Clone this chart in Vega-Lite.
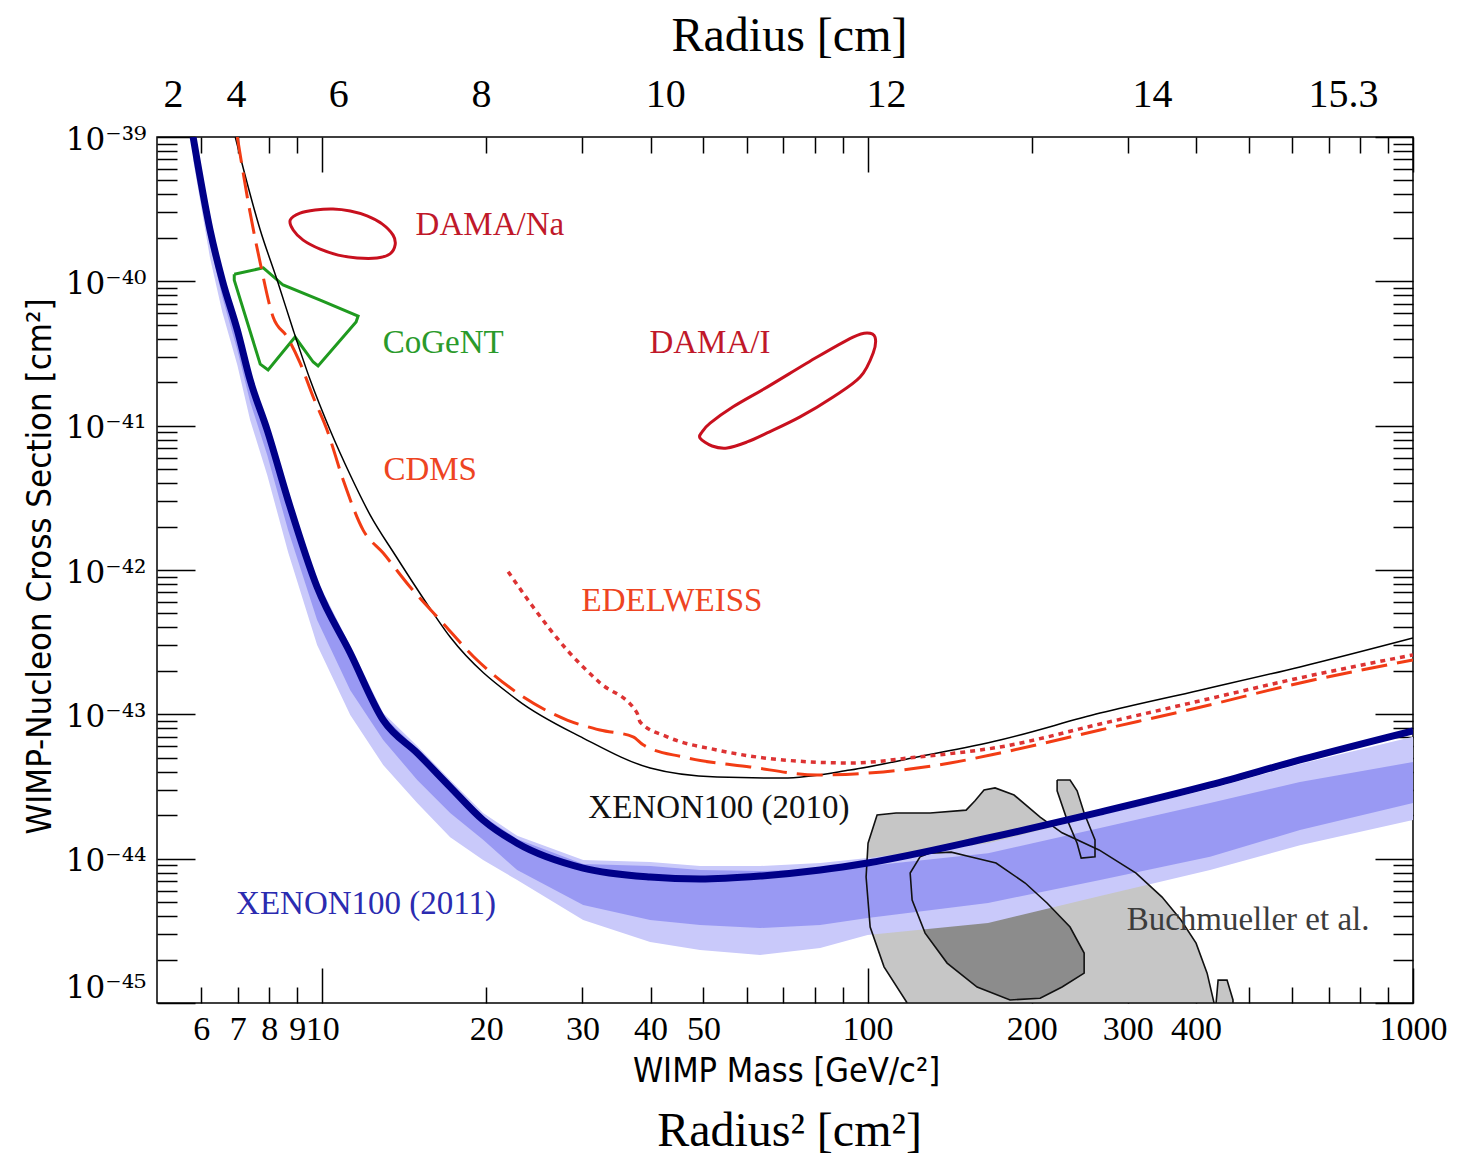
{
  "$schema": "https://vega.github.io/schema/vega-lite/v6.json",
  "width": 1256,
  "height": 866,
  "autosize": {"type": "none"},
  "padding": {"left": 157, "top": 137, "right": 55, "bottom": 152},
  "background": "white",
  "config": {
    "view": {"stroke": "black", "strokeWidth": 1.5},
    "axis": {"grid": false, "domain": false, "labelOverlap": false, "labelFlush": false, "labelBound": false, "tickColor": "black", "tickWidth": 1.5, "labelColor": "black", "titleColor": "black", "titleFontWeight": "normal", "zindex": 1}
  },
  "datasets": {
    "x11": [
      {"m":5.80,"s":1.0e-39,"hi2":1.12e-39,"hi1":1.07e-39,"lo1":8.13e-40,"lo2":6.93e-40},
      {"m":6.23,"s":2.27e-40,"hi2":2.58e-40,"hi1":2.42e-40,"lo1":1.79e-40,"lo2":1.45e-40},
      {"m":6.56,"s":1.02e-40,"hi2":1.16e-40,"hi1":1.09e-40,"lo1":7.79e-41,"lo2":6.13e-41},
      {"m":6.99,"s":4.60e-41,"hi2":5.23e-41,"hi1":4.90e-41,"lo1":3.34e-41,"lo2":2.63e-41},
      {"m":7.38,"s":2.07e-41,"hi2":2.35e-41,"hi1":2.21e-41,"lo1":1.46e-41,"lo2":1.09e-41},
      {"m":7.93,"s":9.33e-42,"hi2":1.04e-41,"hi1":9.95e-42,"lo1":6.26e-42,"lo2":4.55e-42},
      {"m":8.66,"s":3.05e-42,"hi2":3.42e-42,"hi1":3.26e-42,"lo1":1.89e-42,"lo2":1.33e-42},
      {"m":9.79,"s":7.62e-43,"hi2":8.52e-43,"hi1":8.12e-43,"lo1":4.50e-43,"lo2":3.02e-43},
      {"m":11.26,"s":2.66e-43,"hi2":2.97e-43,"hi1":2.84e-43,"lo1":1.47e-43,"lo2":9.89e-44},
      {"m":12.94,"s":9.13e-44,"hi2":1.02e-43,"hi1":9.74e-44,"lo1":6.64e-44,"lo2":4.46e-44},
      {"m":14.94,"s":5.40e-44,"hi2":6.03e-44,"hi1":5.75e-44,"lo1":3.51e-44,"lo2":2.43e-44},
      {"m":17.17,"s":3.14e-44,"hi2":3.51e-44,"hi1":3.34e-44,"lo1":2.07e-44,"lo2":1.41e-44},
      {"m":19.73,"s":1.85e-44,"hi2":2.07e-44,"hi1":1.97e-44,"lo1":1.35e-44,"lo2":9.79e-45},
      {"m":22.78,"s":1.28e-44,"hi2":1.44e-44,"hi1":1.37e-44,"lo1":8.34e-45,"lo2":7.11e-45},
      {"m":30.10,"s":8.61e-45,"hi2":9.79e-45,"hi1":9.18e-45,"lo1":4.77e-45,"lo2":3.76e-45},
      {"m":39.94,"s":7.46e-45,"hi2":9.48e-45,"hi1":8.89e-45,"lo1":3.76e-45,"lo2":2.65e-45},
      {"m":49.30,"s":7.23e-45,"hi2":8.89e-45,"hi1":8.34e-45,"lo1":3.47e-45,"lo2":2.33e-45},
      {"m":63.53,"s":7.58e-45,"hi2":8.89e-45,"hi1":8.21e-45,"lo1":3.31e-45,"lo2":2.15e-45},
      {"m":81.87,"s":8.34e-45,"hi2":9.33e-45,"hi1":8.48e-45,"lo1":3.47e-45,"lo2":2.40e-45},
      {"m":100,"s":9.33e-45,"hi2":1.01e-44,"hi1":8.89e-45,"lo1":3.88e-45,"lo2":2.96e-45},
      {"m":166.3,"s":1.39e-44,"hi2":1.28e-44,"hi1":1.09e-44,"lo1":4.93e-45,"lo2":3.58e-45},
      {"m":266.9,"s":2.10e-44,"hi2":2.01e-44,"hi1":1.63e-44,"lo1":7.11e-45,"lo2":5.51e-45},
      {"m":424.6,"s":3.24e-44,"hi2":3.04e-44,"hi1":2.43e-44,"lo1":1.03e-44,"lo2":8.34e-45},
      {"m":620.6,"s":4.83e-44,"hi2":4.53e-44,"hi1":3.40e-44,"lo1":1.58e-44,"lo2":1.24e-44},
      {"m":1000,"s":7.69e-44,"hi2":6.99e-44,"hi1":4.67e-44,"lo1":2.43e-44,"lo2":1.85e-44}
    ],
    "x10": [
      {"m":6.93,"s":1e-39},{"m":7.70,"s":2.27e-40},{"m":8.27,"s":1.02e-40},{"m":8.85,"s":4.60e-41},
      {"m":9.51,"s":2.07e-41},{"m":10.34,"s":9.33e-42},{"m":11.26,"s":4.55e-42},{"m":12.25,"s":2.40e-42},
      {"m":13.61,"s":1.27e-42},{"m":15.31,"s":6.40e-43},{"m":17.17,"s":3.43e-43},{"m":22.78,"s":1.26e-43},
      {"m":30.10,"s":6.85e-44},{"m":39.94,"s":4.25e-44},{"m":52.98,"s":3.68e-44},{"m":69.99,"s":3.62e-44},
      {"m":92.89,"s":4.11e-44},{"m":123.3,"s":5.06e-44},{"m":175.0,"s":6.64e-44},{"m":266.9,"s":1.02e-43},
      {"m":406.9,"s":1.47e-43},{"m":620.6,"s":2.13e-43},{"m":1000,"s":3.38e-43}
    ],
    "cdms": [
      {"m":6.99,"s":1e-39},{"m":7.38,"s":2.97e-40},{"m":7.70,"s":1.34e-40},{"m":8.13,"s":5.66e-41},
      {"m":8.63,"s":4.11e-41},{"m":9.11,"s":2.72e-41},{"m":9.63,"s":1.58e-41},{"m":10.21,"s":9.33e-42},
      {"m":10.93,"s":4.20e-42},{"m":11.89,"s":1.89e-42},{"m":12.94,"s":1.31e-42},{"m":14.50,"s":7.62e-43},
      {"m":16.45,"s":4.50e-43},{"m":19.23,"s":2.38e-43},{"m":22.78,"s":1.41e-43},{"m":28.13,"s":9.13e-44},
      {"m":32.33,"s":7.79e-44},{"m":37.16,"s":6.99e-44},{"m":38.77,"s":6.15e-44},{"m":45.90,"s":5.06e-44},
      {"m":60.89,"s":4.32e-44},{"m":80.83,"s":3.80e-44},{"m":106.8,"s":3.99e-44},{"m":141.7,"s":4.60e-44},
      {"m":175.0,"s":5.40e-44},{"m":266.9,"s":7.79e-44},{"m":406.9,"s":1.12e-43},{"m":620.6,"s":1.65e-43},
      {"m":1000,"s":2.38e-43}
    ],
    "edel": [
      {"m":21.93,"s":9.74e-43},{"m":24.37,"s":5.54e-43},{"m":28.13,"s":2.79e-43},{"m":32.33,"s":1.65e-43},
      {"m":37.80,"s":1.02e-43},{"m":38.28,"s":8.85e-44},{"m":42.90,"s":6.99e-44},{"m":52.98,"s":5.66e-44},
      {"m":69.99,"s":4.83e-44},{"m":92.89,"s":4.60e-44},{"m":123.3,"s":5.06e-44},{"m":175.0,"s":5.94e-44},
      {"m":266.9,"s":8.57e-44},{"m":406.9,"s":1.24e-43},{"m":620.6,"s":1.79e-43},{"m":1000,"s":2.58e-43}
    ],
    "contours": [
      {"id":"dna","i":0,"m":8.74,"s":2.66e-40},{"id":"dna","i":1,"m":9.11,"s":2.97e-40},{"id":"dna","i":2,"m":9.71,"s":3.12e-40},
      {"id":"dna","i":3,"m":10.47,"s":3.17e-40},{"id":"dna","i":4,"m":11.26,"s":3.07e-40},{"id":"dna","i":5,"m":12.09,"s":2.84e-40},
      {"id":"dna","i":6,"m":12.88,"s":2.50e-40},{"id":"dna","i":7,"m":13.49,"s":2.09e-40},{"id":"dna","i":8,"m":13.61,"s":1.79e-40},
      {"id":"dna","i":9,"m":13.32,"s":1.55e-40},{"id":"dna","i":10,"m":12.61,"s":1.45e-40},{"id":"dna","i":11,"m":11.59,"s":1.45e-40},
      {"id":"dna","i":12,"m":10.70,"s":1.52e-40},{"id":"dna","i":13,"m":9.92,"s":1.67e-40},{"id":"dna","i":14,"m":9.23,"s":1.93e-40},
      {"id":"dna","i":15,"m":8.85,"s":2.27e-40},
      {"id":"di","i":0,"m":49.30,"s":8.21e-42},{"id":"di","i":1,"m":51.87,"s":7.23e-42},{"id":"di","i":2,"m":55.27,"s":7.00e-42},
      {"id":"di","i":3,"m":60.14,"s":7.71e-42},{"id":"di","i":4,"m":65.44,"s":8.90e-42},{"id":"di","i":5,"m":75.20,"s":1.15e-41},
      {"id":"di","i":6,"m":86.47,"s":1.58e-41},{"id":"di","i":7,"m":96.89,"s":2.17e-41},{"id":"di","i":8,"m":102.4,"s":3.19e-41},
      {"id":"di","i":9,"m":103.2,"s":4.11e-41},{"id":"di","i":10,"m":99.79,"s":4.39e-41},{"id":"di","i":11,"m":94.06,"s":4.11e-41},
      {"id":"di","i":12,"m":80.83,"s":2.99e-41},{"id":"di","i":13,"m":65.44,"s":1.85e-41},{"id":"di","i":14,"m":56.68,"s":1.35e-41},
      {"id":"di","i":15,"m":51.44,"s":1.04e-41},{"id":"di","i":16,"m":49.72,"s":9.04e-42},
      {"id":"cog","i":0,"m":6.90,"s":1.12e-40},{"id":"cog","i":1,"m":7.80,"s":1.24e-40},{"id":"cog","i":2,"m":8.48,"s":9.43e-41},
      {"id":"cog","i":3,"m":9.92,"s":7.42e-41},{"id":"cog","i":4,"m":11.64,"s":5.75e-41},{"id":"cog","i":5,"m":11.54,"s":5.23e-41},
      {"id":"cog","i":6,"m":9.83,"s":2.59e-41},{"id":"cog","i":7,"m":9.63,"s":2.76e-41},{"id":"cog","i":8,"m":8.92,"s":4.11e-41},
      {"id":"cog","i":9,"m":7.96,"s":2.43e-41},{"id":"cog","i":10,"m":7.70,"s":2.67e-41},{"id":"cog","i":11,"m":6.90,"s":1.02e-40},
      {"id":"cog","i":12,"m":6.90,"s":1.12e-40},
      {"id":"out","i":0,"m":118.2,"s":1e-45},{"id":"out","i":1,"m":107.2,"s":1.78e-45},{"id":"out","i":2,"m":101.1,"s":3.36e-45},
      {"id":"out","i":3,"m":99.38,"s":7.46e-45},{"id":"out","i":4,"m":100.2,"s":1.28e-44},{"id":"out","i":5,"m":104.1,"s":2.01e-44},
      {"id":"out","i":6,"m":112.8,"s":2.07e-44},{"id":"out","i":7,"m":130.2,"s":2.07e-44},{"id":"out","i":8,"m":151.6,"s":2.17e-44},
      {"id":"out","i":9,"m":157.4,"s":2.52e-44},{"id":"out","i":10,"m":163.5,"s":2.99e-44},{"id":"out","i":11,"m":171.3,"s":3.09e-44},
      {"id":"out","i":12,"m":185.6,"s":2.76e-44},{"id":"out","i":13,"m":207.2,"s":1.94e-44},{"id":"out","i":14,"m":227.3,"s":1.51e-44},
      {"id":"out","i":15,"m":265.7,"s":1.15e-44},{"id":"out","i":16,"m":310.6,"s":7.95e-45},{"id":"out","i":17,"m":346.7,"s":5.42e-45},
      {"id":"out","i":18,"m":375.5,"s":3.76e-45},{"id":"out","i":19,"m":400.2,"s":2.60e-45},{"id":"out","i":20,"m":419.3,"s":1.61e-45},
      {"id":"out","i":21,"m":431.8,"s":1e-45},{"id":"out","i":22,"m":118.2,"s":1e-45},
      {"id":"inn","i":0,"m":129.7,"s":1.09e-44},{"id":"inn","i":1,"m":142.3,"s":1.11e-44},{"id":"inn","i":2,"m":154.2,"s":1.03e-44},
      {"id":"inn","i":3,"m":172.0,"s":9.33e-45},{"id":"inn","i":4,"m":194.5,"s":6.78e-45},{"id":"inn","i":5,"m":213.3,"s":4.93e-45},
      {"id":"inn","i":6,"m":235.1,"s":3.36e-45},{"id":"inn","i":7,"m":249.5,"s":2.22e-45},{"id":"inn","i":8,"m":249.5,"s":1.61e-45},
      {"id":"inn","i":9,"m":227.3,"s":1.29e-45},{"id":"inn","i":10,"m":207.2,"s":1.08e-45},{"id":"inn","i":11,"m":182.5,"s":1.05e-45},
      {"id":"inn","i":12,"m":158.8,"s":1.29e-45},{"id":"inn","i":13,"m":139.9,"s":1.89e-45},{"id":"inn","i":14,"m":127.5,"s":3.05e-45},
      {"id":"inn","i":15,"m":120.7,"s":5.17e-45},{"id":"inn","i":16,"m":119.7,"s":7.95e-45},{"id":"inn","i":17,"m":124.8,"s":1.03e-44},
      {"id":"inn","i":18,"m":129.7,"s":1.09e-44},
      {"id":"fin","i":0,"m":222.6,"s":3.51e-44},{"id":"fin","i":1,"m":235.1,"s":3.51e-44},{"id":"fin","i":2,"m":242.2,"s":2.95e-44},
      {"id":"fin","i":3,"m":249.5,"s":2.07e-44},{"id":"fin","i":4,"m":261.2,"s":1.35e-44},{"id":"fin","i":5,"m":261.2,"s":1.03e-44},
      {"id":"fin","i":6,"m":246.4,"s":1.01e-44},{"id":"fin","i":7,"m":242.2,"s":1.28e-44},{"id":"fin","i":8,"m":231.2,"s":1.94e-44},
      {"id":"fin","i":9,"m":222.6,"s":2.95e-44},{"id":"fin","i":10,"m":222.6,"s":3.51e-44},
      {"id":"blb","i":0,"m":435.5,"s":1e-45},{"id":"blb","i":1,"m":439.2,"s":1.44e-45},{"id":"blb","i":2,"m":456.1,"s":1.44e-45},
      {"id":"blb","i":3,"m":467.7,"s":1.05e-45},{"id":"blb","i":4,"m":467.7,"s":1e-45},{"id":"blb","i":5,"m":435.5,"s":1e-45}
    ],
    "notes": [
      {"label":"DAMA/Na","m":20.3,"s":2.45e-40},
      {"label":"CoGeNT","m":16.67,"s":3.74e-41},
      {"label":"DAMA/I","m":51.4,"s":3.74e-41},
      {"label":"CDMS","m":15.78,"s":4.93e-42},
      {"label":"EDELWEISS","m":43.8,"s":6.10e-43},
      {"label":"XENON100 (2010)","m":53.4,"s":2.24e-44},
      {"label":"XENON100 (2011)","m":12.04,"s":4.85e-45},
      {"label":"Buchmueller et al.","m":498.4,"s":3.76e-45}
    ]
  },
  "encoding": {
    "x": {"field": "m", "type": "quantitative", "scale": {"type": "log", "domain": [4.98, 1000], "nice": false}, "axis": null},
    "y": {"field": "s", "type": "quantitative", "scale": {"type": "log", "domain": [1e-45, 1e-39], "nice": false}, "axis": null}
  },
  "layer": [
    {
      "data": {"name": "contours"},
      "transform": [{"filter": "datum.id == 'out'"}],
      "mark": {"type": "line", "fill": "#c6c6c6", "strokeWidth": 0, "clip": true},
      "encoding": {
        "order": {"field": "i", "type": "quantitative"},
        "x": {"field": "m", "type": "quantitative", "scale": {"type": "log", "domain": [4.98, 1000], "nice": false},
          "axis": {"orient": "bottom", "values": [6,7,8,9,10,20,30,40,50,100,200,300,400,1000], "format": "d", "ticks": false,
            "labelFont": "Liberation Serif", "labelFontSize": 34, "labelBaseline": "alphabetic", "labelPadding": 36,
            "title": "WIMP Mass [GeV/c²]", "titleFont": "DejaVu Sans Condensed, DejaVu Sans", "titleFontSize": 34,
            "titleX": 629, "titleY": 78, "titleBaseline": "alphabetic", "titleAlign": "center"}},
        "y": {"field": "s", "type": "quantitative", "scale": {"type": "log", "domain": [1e-45, 1e-39], "nice": false},
          "axis": {"orient": "left", "values": [1e-45,1e-44,1e-43,1e-42,1e-41,1e-40,1e-39], "ticks": false,
            "labelExpr": "datum.value < 2e-45 ? '10⁻⁴⁵' : datum.value < 2e-44 ? '10⁻⁴⁴' : datum.value < 2e-43 ? '10⁻⁴³' : datum.value < 2e-42 ? '10⁻⁴²' : datum.value < 2e-41 ? '10⁻⁴¹' : datum.value < 2e-40 ? '10⁻⁴⁰' : '10⁻³⁹'",
            "labelFont": "DejaVu Serif", "labelFontSize": 31, "labelAlign": "right", "labelBaseline": "alphabetic", "labelPadding": 11,
            "labelOffset": {"condition": {"test": "datum.value < 2e-45", "value": -6}, "value": 12},
            "title": "WIMP-Nucleon Cross Section [cm²]", "titleFont": "DejaVu Sans Condensed, DejaVu Sans", "titleFontSize": 34.5,
            "titleAngle": 270, "titleX": -107, "titleY": 429, "titleBaseline": "alphabetic", "titleAlign": "center"}}
      }
    },
    {
      "data": {"name": "contours"},
      "transform": [{"filter": "datum.id == 'inn'"}],
      "mark": {"type": "line", "fill": "#8c8c8c", "strokeWidth": 0, "clip": true},
      "encoding": {
        "order": {"field": "i", "type": "quantitative"},
        "x": {"field": "m", "type": "quantitative", "scale": {"type": "log", "domain": [4.98, 1000], "nice": false},
          "axis": {"orient": "bottom", "values": [10,100,1000], "labels": false, "tickSize": -35,
            "title": "Radius² [cm²]", "titleFont": "Liberation Serif", "titleFontSize": 48,
            "titleX": 632, "titleY": 142, "titleBaseline": "alphabetic", "titleAlign": "center"}},
        "y": {"field": "s", "type": "quantitative", "scale": {"type": "log", "domain": [1e-45, 1e-39], "nice": false},
          "axis": {"orient": "left", "values": [1e-45,1e-44,1e-43,1e-42,1e-41,1e-40,1e-39], "labels": false, "tickSize": -38, "title": null}}
      }
    },
    {
      "data": {"name": "contours"},
      "transform": [{"filter": "datum.id == 'fin'"}],
      "mark": {"type": "line", "fill": "#c6c6c6", "strokeWidth": 0, "clip": true},
      "encoding": {
        "order": {"field": "i", "type": "quantitative"},
        "x": {"field": "m", "type": "quantitative", "scale": {"type": "log", "domain": [4.98, 1000], "nice": false},
          "axis": {"orient": "bottom", "values": [6,7,8,9,20,30,40,50,60,70,80,90,200,300,400,500,600,700,800,900], "labels": false, "tickSize": -16, "title": null}},
        "y": {"field": "s", "type": "quantitative", "scale": {"type": "log", "domain": [1e-45, 1e-39], "nice": false},
          "axis": {"orient": "left", "values": [2e-45,3e-45,4e-45,5e-45,6e-45,7e-45,8e-45,9e-45,2e-44,3e-44,4e-44,5e-44,6e-44,7e-44,8e-44,9e-44,2e-43,3e-43,4e-43,5e-43,6e-43,7e-43,8e-43,9e-43,2e-42,3e-42,4e-42,5e-42,6e-42,7e-42,8e-42,9e-42,2e-41,3e-41,4e-41,5e-41,6e-41,7e-41,8e-41,9e-41,2e-40,3e-40,4e-40,5e-40,6e-40,7e-40,8e-40,9e-40], "labels": false, "tickSize": -20, "title": null}}
      }
    },
    {
      "data": {"name": "contours"},
      "transform": [{"filter": "datum.id == 'blb'"}],
      "mark": {"type": "line", "fill": "#c6c6c6", "strokeWidth": 0, "clip": true},
      "encoding": {
        "order": {"field": "i", "type": "quantitative"},
        "x": {"field": "m", "type": "quantitative", "scale": {"type": "log", "domain": [4.98, 1000], "nice": false},
          "axis": {"orient": "top", "values": [10,100,1000], "labels": false, "tickSize": -35, "title": null}},
        "y": {"field": "s", "type": "quantitative", "scale": {"type": "log", "domain": [1e-45, 1e-39], "nice": false},
          "axis": {"orient": "right", "values": [1e-45,1e-44,1e-43,1e-42,1e-41,1e-40,1e-39], "labels": false, "tickSize": -38, "title": null}}
      }
    },
    {
      "data": {"name": "x11"},
      "mark": {"type": "area", "color": "#c9c9fa", "clip": true},
      "encoding": {
        "x": {"field": "m", "type": "quantitative", "scale": {"type": "log", "domain": [4.98, 1000], "nice": false},
          "axis": {"orient": "top", "values": [6,7,8,9,20,30,40,50,60,70,80,90,200,300,400,500,600,700,800,900], "labels": false, "tickSize": -16, "title": null}},
        "y": {"field": "hi2", "type": "quantitative", "scale": {"type": "log", "domain": [1e-45, 1e-39], "nice": false},
          "axis": {"orient": "right", "values": [2e-45,3e-45,4e-45,5e-45,6e-45,7e-45,8e-45,9e-45,2e-44,3e-44,4e-44,5e-44,6e-44,7e-44,8e-44,9e-44,2e-43,3e-43,4e-43,5e-43,6e-43,7e-43,8e-43,9e-43,2e-42,3e-42,4e-42,5e-42,6e-42,7e-42,8e-42,9e-42,2e-41,3e-41,4e-41,5e-41,6e-41,7e-41,8e-41,9e-41,2e-40,3e-40,4e-40,5e-40,6e-40,7e-40,8e-40,9e-40], "labels": false, "tickSize": -20, "title": null}},
        "y2": {"field": "lo2"}
      }
    },
    {
      "data": {"name": "x11"},
      "mark": {"type": "area", "color": "#9999f3", "clip": true},
      "encoding": {
        "x": {"field": "m", "type": "quantitative", "scale": {"type": "log", "domain": [4.98, 1000], "nice": false},
          "axis": {"orient": "top", "values": [5.33,6.95,10.70,19.56,42.55,108.1,332.3,744.0], "ticks": false,
            "labelExpr": "datum.value < 6 ? '2' : datum.value < 8 ? '4' : datum.value < 15 ? '6' : datum.value < 30 ? '8' : datum.value < 60 ? '10' : datum.value < 200 ? '12' : datum.value < 500 ? '14' : '15.3'",
            "labelFont": "Liberation Serif", "labelFontSize": 40, "labelBaseline": "alphabetic", "labelPadding": 31,
            "title": "Radius [cm]", "titleFont": "Liberation Serif", "titleFontSize": 48,
            "titleX": 632, "titleY": -87, "titleBaseline": "alphabetic", "titleAlign": "center"}},
        "y": {"field": "hi1", "type": "quantitative", "scale": {"type": "log", "domain": [1e-45, 1e-39], "nice": false}, "axis": null},
        "y2": {"field": "lo1"}
      }
    },
    {
      "data": {"name": "contours"},
      "transform": [{"filter": "indexof(['out','inn','fin','blb'], datum.id) >= 0"}],
      "mark": {"type": "line", "stroke": "#111111", "strokeWidth": 1.6, "clip": true},
      "encoding": {"detail": {"field": "id"}, "order": {"field": "i", "type": "quantitative"}}
    },
    {
      "data": {"name": "contours"},
      "transform": [{"filter": "datum.id == 'dna' || datum.id == 'di'"}],
      "mark": {"type": "line", "stroke": "#c8101e", "strokeWidth": 3, "interpolate": "cardinal-closed", "clip": true},
      "encoding": {"detail": {"field": "id"}, "order": {"field": "i", "type": "quantitative"}}
    },
    {
      "data": {"name": "contours"},
      "transform": [{"filter": "datum.id == 'cog'"}],
      "mark": {"type": "line", "stroke": "#1f9a1f", "strokeWidth": 3, "clip": true},
      "encoding": {"order": {"field": "i", "type": "quantitative"}}
    },
    {
      "data": {"name": "x10"},
      "mark": {"type": "line", "stroke": "#000000", "strokeWidth": 1.5, "interpolate": "monotone", "clip": true},
      "encoding": {}
    },
    {
      "data": {"name": "cdms"},
      "mark": {"type": "line", "stroke": "#f23c14", "strokeWidth": 3, "strokeDash": [26, 10], "interpolate": "monotone", "clip": true},
      "encoding": {}
    },
    {
      "data": {"name": "edel"},
      "mark": {"type": "line", "stroke": "#dd3333", "strokeWidth": 3.5, "strokeDash": [5, 5], "interpolate": "monotone", "clip": true},
      "encoding": {}
    },
    {
      "data": {"name": "x11"},
      "mark": {"type": "line", "stroke": "#000088", "strokeWidth": 7, "interpolate": "monotone", "clip": true},
      "encoding": {}
    },
    {
      "data": {"name": "notes"},
      "mark": {"type": "text", "font": "Liberation Serif", "fontSize": 33, "align": "center", "baseline": "middle"},
      "encoding": {
        "text": {"field": "label"},
        "color": {"field": "label", "type": "nominal", "legend": null,
          "scale": {"domain": ["DAMA/Na","CoGeNT","DAMA/I","CDMS","EDELWEISS","XENON100 (2010)","XENON100 (2011)","Buchmueller et al."],
            "range": ["#c0182a","#2a9a2a","#c0182a","#ee4422","#ee4422","#111111","#2b2bb0","#3c3c3c"]}}
      }
    }
  ],
  "resolve": {"axis": {"x": "independent", "y": "independent"}}
}
